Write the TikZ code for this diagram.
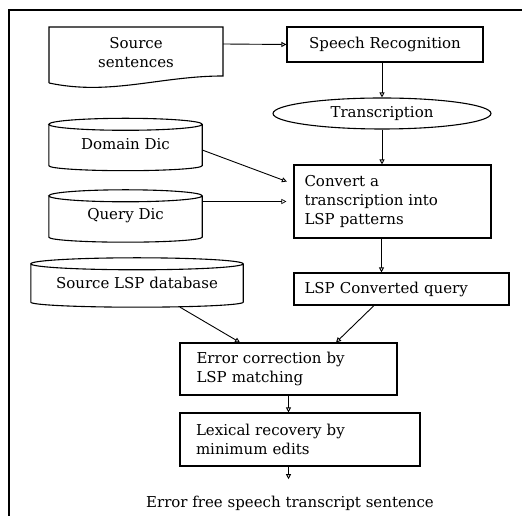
\documentclass[tikz,border=0pt]{standalone}
\usepackage{fontspec}
\setmainfont{DejaVu Serif}
\usetikzlibrary{arrows.meta, shapes.geometric, calc}

\begin{document}
\begin{tikzpicture}[x=1pt, y=1pt,
    font=\fontsize{15}{19}\selectfont,
    box/.style={draw, line width=1.1pt, minimum width=#1},
    flow/.style={line width=0.9pt, -{Triangle[open, length=5pt, width=5pt]}},
    tube/.style={minimum width=#1, minimum height=52}]

    \useasboundingbox (0,0) rectangle (522,516);

    % frame
    \draw[line width=1.6pt] (522,506) -- (9,506) -- (9,0);

    % input document
    \node[align=center] (src) at (136,463) {Source\\sentences};
    \draw[line width=1.1pt] (49,433) -- (49,489) -- (223,489) -- (223,440)
        .. controls (160,440) and (110,420) .. (49,433);
    \coordinate (srcR) at (223,472);

    \node[box=196, minimum height=35] (sr) at (385,471.5) {Speech Recognition};
    \node[draw, line width=1.1pt, ellipse, minimum width=218, minimum height=31]
        (tr) at (382,402.5) {Transcription};
    \node[box=197, minimum height=73, align=left, text width=176] (cv) at (392.5,314.5)
        {Convert a\\transcription into\\LSP patterns};

    % databases
    \node[tube=153] (dd) at (125.5,371.5) {Domain Dic};
    \node[tube=153] (qd) at (125.5,300) {Query Dic};
    \node[tube=212, minimum height=49] (sl) at (137,233.5) {Source LSP database};
    \foreach \cyl in {dd,qd,sl} {
        \draw[line width=1.1pt] let \p1=(\cyl.north west), \p2=(\cyl.south east),
            \n1={(\x2-\x1)/2} in
            (\x1,\y1-6pt) -- (\x1,\y2+5pt)
            arc[start angle=180, end angle=360, x radius=\n1, y radius=5pt]
            -- (\x2,\y1-6pt)
            arc[start angle=0, end angle=360, x radius=\n1, y radius=6pt];
    }

    \node[box=215, minimum height=32, align=left, text width=194] (lc) at (401.5,227)
        {LSP Converted query};
    \node[box=217, minimum height=52, align=left, text width=184] (err) at (288.5,147)
        {Error correction by\\LSP matching};
    \node[box=240, minimum height=53, align=left, text width=208] (lex) at (300,76.5)
        {Lexical recovery by\\minimum edits};
    \node (out) at (290,13) {Error free speech transcript sentence};

    % connectors
    \draw[flow] (srcR) -- (sr.west);
    \draw[flow] (sr.south -| tr.north) -- (tr.north);
    \draw[flow] (tr.south) -- (tr.south |- cv.north);
    \draw[flow, shorten >=7pt] (dd.east |- 0,366) -- (cv.west |- 0,332);
    \draw[line width=0.6pt, -{Triangle[open, length=5pt, width=5pt]}, shorten >=7pt]
        (qd.east |- cv.west) -- (cv.west);
    \draw[flow] ([xshift=-11pt]cv.south) -- ([xshift=-11pt]cv.south |- lc.north);
    \draw[flow] (sl.south -| 180,0) -- (err.north -| 240,0);
    \draw[flow] (lc.south -| 374,0) -- (err.north -| 336,0);
    \draw[flow] (err.south) -- (err.south |- lex.north);
    \draw[flow, shorten >=13pt] (err.south |- lex.south) -- (err.south |- out.north);

\end{tikzpicture}
\end{document}
